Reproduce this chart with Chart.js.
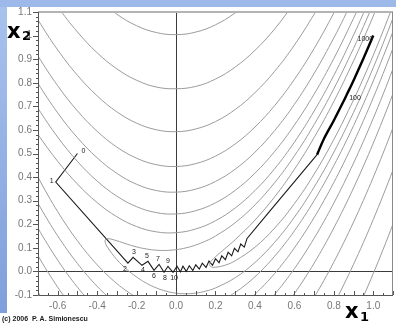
<!DOCTYPE html>
<html>
<head>
<meta charset="utf-8">
<script src="https://cdn.jsdelivr.net/npm/chart.js@4.4.1/dist/chart.umd.min.js"></script>
<style>
  html, body { margin: 0; padding: 0; background: #fff; }
  canvas { display: block; }
</style>
</head>
<body>
<canvas id="contourChart" width="396" height="324"></canvas>
<script>
// axis ticks
const xTicks = [-0.6, -0.4, -0.2, 0.0, 0.2, 0.4, 0.6, 0.8, 1.0];
const xTickLabels = ['-0.6', '-0.4', '-0.2', '0.0', '0.2', '0.4', '0.6', '0.8', '1.0'];
const yTicks = [-0.1, 0.0, 0.1, 0.2, 0.3, 0.4, 0.5, 0.6, 0.7, 0.8, 0.9, 1.0, 1.1];
const yTickLabels = ['-0.1', '0.0', '0.1', '0.2', '0.3', '0.4', '0.5', '0.6', '0.7', '0.8', '0.9', '1', '1.1'];

// contour lines as [x1, x2] points (outer level first)
const contourA_upper = [[-0.4,1.159],[-0.3,1.0905],[-0.2,1.0418],[-0.1,1.0129],[0,1.004],[0.1,1.0149],[0.2,1.0458],[0.3,1.0965],[0.4,1.167]];
const contourA_lower = [[0.9,-0.199],[0.95,-0.106],[1.0,-0.009],[1.05,0.0935],[1.1,0.201],[1.15,0.3135]];

const contourB_upper = [[-0.7,1.251],[-0.6,1.123],[-0.5,1.0152],[-0.4,0.9271],[-0.3,0.8588],[-0.2,0.8105],[-0.1,0.7819],[0,0.7746],[0.1,0.7845],[0.2,0.8156],[0.3,0.8666],[0.4,0.9374],[0.5,1.0281],[0.6,1.1387]];
const contourB_lower = [[0.75,-0.2172],[0.8,-0.1395],[0.85,-0.057],[0.9,0.0303],[0.95,0.1228],[1.0,0.2203],[1.05,0.3228],[1.1,0.4303],[1.15,0.5428]];

const contourC_upper = [[-0.75,1.1373],[-0.7,1.0663],[-0.6,0.9391],[-0.5,0.8318],[-0.4,0.7443],[-0.3,0.6766],[-0.2,0.6287],[-0.1,0.6007],[0,0.5925],[0.1,0.6041],[0.2,0.6355],[0.3,0.6867],[0.4,0.7578],[0.5,0.8487],[0.6,0.9595],[0.7,1.0901],[0.75,1.1628]];
const contourC_left = [[-0.75,-0.0123],[-0.7,-0.0863],[-0.65,-0.1552]];
const contourC_lower = [[0.65,-0.1773],[0.7,-0.1101],[0.75,-0.0378],[0.8,0.0395],[0.85,0.1219],[0.9,0.2093],[0.95,0.3017],[1.0,0.3992],[1.05,0.5017],[1.1,0.6092],[1.15,0.7217]];

const contourD_upper = [[-0.75,0.9837],[-0.7,0.9132],[-0.6,0.7871],[-0.5,0.6807],[-0.4,0.5941],[-0.3,0.5271],[-0.2,0.48],[-0.1,0.4526],[0,0.445],[0.1,0.4571],[0.2,0.489],[0.3,0.5407],[0.4,0.6121],[0.5,0.7033],[0.6,0.8143],[0.7,0.9451],[0.8,1.0956],[0.85,1.1783]];
const contourD_left = [[-0.75,0.1413],[-0.7,0.0668],[-0.65,-0.0027],[-0.6,-0.0671],[-0.55,-0.1264]];
const contourD_lower = [[0.55,-0.1514],[0.6,-0.0943],[0.65,-0.0322],[0.7,0.0349],[0.75,0.1071],[0.8,0.1844],[0.85,0.2667],[0.9,0.354],[0.95,0.4465],[1.0,0.5439],[1.05,0.6465],[1.1,0.754],[1.15,0.8665]];

const contourE_upper = [[-0.75,0.8664],[-0.7,0.7968],[-0.6,0.6721],[-0.5,0.567],[-0.4,0.4816],[-0.3,0.4157],[-0.2,0.3695],[-0.1,0.343],[0,0.3362],[0.1,0.349],[0.2,0.3815],[0.3,0.4337],[0.4,0.5055],[0.5,0.5971],[0.6,0.7084],[0.7,0.8394],[0.8,0.9901],[0.85,1.0728],[0.9,1.1605]];
const contourE_left = [[-0.75,0.2586],[-0.7,0.1832],[-0.65,0.113],[-0.6,0.0479],[-0.55,-0.0121],[-0.5,-0.067],[-0.45,-0.1168]];
const contourE_lower = [[0.45,-0.1439],[0.5,-0.0971],[0.55,-0.0453],[0.6,0.0116],[0.65,0.0735],[0.7,0.1406],[0.75,0.2127],[0.8,0.2899],[0.85,0.3722],[0.9,0.4595],[0.95,0.5518],[1.0,0.6493],[1.05,0.7518],[1.1,0.8594],[1.15,0.9718]];

const contourF_upper = [[-0.75,0.7594],[-0.7,0.6912],[-0.6,0.5693],[-0.5,0.4666],[-0.4,0.3832],[-0.3,0.3191],[-0.2,0.2745],[-0.1,0.2494],[0,0.2437],[0.1,0.2576],[0.2,0.291],[0.3,0.344],[0.4,0.4165],[0.5,0.5087],[0.6,0.6204],[0.7,0.7517],[0.8,0.9027],[0.9,1.0732],[0.95,1.1659]];
const contourF_left = [[-0.75,0.3656],[-0.7,0.2888],[-0.65,0.2171],[-0.6,0.1507],[-0.55,0.0895],[-0.5,0.0334],[-0.45,-0.0174],[-0.4,-0.0632],[-0.35,-0.1037],[-0.3,-0.1391]];
const contourF_lower = [[0.3,-0.164],[0.35,-0.1328],[0.4,-0.0965],[0.45,-0.0551],[0.5,-0.0087],[0.55,0.0429],[0.6,0.0996],[0.65,0.1614],[0.7,0.2283],[0.75,0.3002],[0.8,0.3773],[0.85,0.4595],[0.9,0.5468],[0.95,0.6391],[1.0,0.7366],[1.05,0.8391],[1.1,0.9467],[1.15,1.0592],[1.2,1.1773]];

const contourG_upper = [[-0.75,0.6423],[-0.7,0.58],[-0.6,0.4668],[-0.5,0.3704],[-0.4,0.2919],[-0.3,0.2318],[-0.2,0.1903],[-0.1,0.1678],[0,0.1643],[0.1,0.18],[0.2,0.2149],[0.3,0.2692],[0.4,0.3428],[0.5,0.4357],[0.6,0.5481],[0.7,0.68],[0.8,0.8313],[0.9,1.0021],[0.95,1.0948],[1.0,1.1924]];
const contourG_left = [[-0.75,0.4827],[-0.7,0.4],[-0.65,0.3236],[-0.6,0.2532],[-0.55,0.1886],[-0.5,0.1296],[-0.45,0.0761],[-0.4,0.0281],[-0.35,-0.0145],[-0.3,-0.0518],[-0.25,-0.0837],[-0.2,-0.1103],[-0.15,-0.1317]];
const contourG_lower = [[0.15,-0.1501],[0.2,-0.1349],[0.25,-0.1146],[0.3,-0.0892],[0.35,-0.0586],[0.4,-0.0228],[0.45,0.0182],[0.5,0.0643],[0.55,0.1155],[0.6,0.1719],[0.65,0.2333],[0.7,0.3],[0.75,0.3717],[0.8,0.4487],[0.85,0.5307],[0.9,0.6179],[0.95,0.7102],[1.0,0.8076],[1.05,0.9102],[1.1,1.0176],[1.15,1.1302]];

const contourH = [[1.05,1.2384],[1.0,1.136],[0.95,1.0384],[0.9,0.9456],[0.8,0.7745],[0.7,0.6227],[0.6,0.49],[0.5,0.3765],[0.4,0.2821],[0.3,0.2066],[0.2,0.15],[0.15,0.1287],[0.1,0.112],[0.05,0.0998],[0,0.0922],[-0.05,0.089],[-0.1,0.09],[-0.15,0.0951],[-0.2,0.104],[-0.25,0.1161],[-0.3,0.13],[-0.35,0.1391],[-0.36,0.1297],[-0.35,0.1059],[-0.3,0.05],[-0.25,0.0089],[-0.2,-0.024],[-0.15,-0.0501],[-0.1,-0.07],[-0.05,-0.084],[0,-0.0922],[0.05,-0.0948],[0.1,-0.092],[0.15,-0.0837],[0.2,-0.07],[0.3,-0.0266],[0.4,0.0379],[0.5,0.1235],[0.6,0.23],[0.7,0.3573],[0.8,0.5055],[0.9,0.6744],[0.95,0.7666],[1.0,0.864],[1.05,0.9666],[1.1,1.0744],[1.15,1.1873]];

const contourI = [[1.05,1.1854],[1.0,1.0831],[0.95,0.9854],[0.9,0.8925],[0.8,0.7206],[0.7,0.5675],[0.6,0.4328],[0.5,0.3163],[0.4,0.2174],[0.3,0.1347],[0.25,0.0982],[0.2,0.0624],[0.18,0.0457],[0.1693,0.0287],[0.18,0.0191],[0.2,0.0176],[0.25,0.0268],[0.3,0.0453],[0.4,0.1026],[0.5,0.1837],[0.6,0.2872],[0.7,0.4125],[0.8,0.5594],[0.9,0.7275],[0.95,0.8196],[1.0,0.9169],[1.05,1.0196],[1.1,1.1275]];

// descent path: start, numbered steps, then small zigzags along the valley
const pathX = [-0.5, -0.61, -0.244, -0.218, -0.1726, -0.1422, -0.1118, -0.0864, -0.061, -0.0408, -0.0154,
  0.005, 0.022, 0.035, 0.052, 0.067, 0.085, 0.100, 0.118, 0.133, 0.152, 0.167, 0.185, 0.200, 0.218,
  0.232, 0.250, 0.264, 0.282, 0.296, 0.314, 0.328, 0.346, 0.36, 0.47, 0.59, 0.715];
const pathY = [0.5, 0.379, 0.035, 0.0595, 0.0259, 0.0427, 0.0049, 0.0301, -0.0035, 0.0217, -0.0035,
  0.022, -0.002, 0.022, 0.000, 0.024, 0.004, 0.028, 0.010, 0.035, 0.017, 0.044, 0.026, 0.054, 0.037,
  0.066, 0.050, 0.081, 0.066, 0.098, 0.083, 0.116, 0.103, 0.14, 0.25, 0.37, 0.495];
const pathLabels = ['0', '1', '2', '3', '4', '5', '6', '7', '8', '9', '10'];

// last part of the path, dense iterations close to the valley floor
const tailX = [0.715, 0.75, 0.8, 0.85, 0.867, 0.9, 0.95, 1.0];
const tailY = [0.495, 0.5625, 0.64, 0.7225, 0.752, 0.81, 0.9025, 1.0];
const tailLabels = ['', '', '', '', '100', '', '', '1000'];

// label placement (pixels from the point)
const pathLabelShift = [[6, -2], [-4, -1], [-3, 6], [1, -5], [1, 5], [-1, -5], [0, 6], [-1, -5], [1, 6], [0, -5], [1, 6]];
const tailLabelShift = {4: [8, 4], 7: [-8, 3]};

const toPoints = (xs, ys) => xs.map((x, i) => ({x: x, y: ys[i]}));
const pairPoints = pts => pts.map(p => ({x: p[0], y: p[1]}));

const contours = [
  contourA_upper, contourA_lower,
  contourB_upper, contourB_lower,
  contourC_upper, contourC_left, contourC_lower,
  contourD_upper, contourD_left, contourD_lower,
  contourE_upper, contourE_left, contourE_lower,
  contourF_upper, contourF_left, contourF_lower,
  contourG_upper, contourG_left, contourG_lower,
  contourH, contourI
];

const datasets = contours.map(c => ({
  data: pairPoints(c),
  showLine: true,
  borderColor: '#9c9c9c',
  borderWidth: 1,
  tension: 0.4,
  pointRadius: 0
}));

datasets.push({
  data: toPoints(pathX, pathY),
  showLine: true,
  borderColor: '#1a1a1a',
  borderWidth: 1.1,
  tension: 0,
  pointRadius: 0
});
datasets.push({
  data: toPoints(tailX, tailY),
  showLine: true,
  borderColor: '#000',
  borderWidth: 2.4,
  tension: 0.3,
  pointRadius: 0
});

const framePlugin = {
  id: 'frame',
  beforeDraw(chart) {
    const ctx = chart.ctx;
    ctx.save();
    ctx.fillStyle = '#fff';
    ctx.fillRect(0, 0, chart.width, chart.height);
    let g = ctx.createLinearGradient(0, 0, 0, 313);
    g.addColorStop(0, '#a9c3ee');
    g.addColorStop(1, '#7f9fdc');
    ctx.fillStyle = g;
    ctx.fillRect(0, 0, 7, 313);
    ctx.fillStyle = '#9db9ea';
    ctx.fillRect(0, 0, chart.width, 7);
    ctx.restore();
  },
  beforeDatasetsDraw(chart) {
    const ctx = chart.ctx;
    const a = chart.chartArea;
    const xs = chart.scales.x, ys = chart.scales.y;
    ctx.save();
    ctx.strokeStyle = '#3a3a3a';
    ctx.lineWidth = 1;
    const x0 = Math.round(xs.getPixelForValue(0)) + 0.5;
    const y0 = Math.round(ys.getPixelForValue(0)) + 0.5;
    ctx.beginPath();
    ctx.moveTo(x0, a.top); ctx.lineTo(x0, a.bottom);
    ctx.moveTo(a.left, y0); ctx.lineTo(a.right, y0);
    ctx.stroke();
    ctx.restore();
  },
  afterDatasetsDraw(chart) {
    const ctx = chart.ctx;
    const a = chart.chartArea;
    const xs = chart.scales.x, ys = chart.scales.y;
    ctx.save();
    // frame
    ctx.strokeStyle = '#b4b4b4';
    ctx.lineWidth = 2;
    ctx.beginPath();
    ctx.moveTo(a.left, a.top); ctx.lineTo(a.right, a.top);
    ctx.stroke();
    ctx.lineWidth = 1;
    ctx.strokeStyle = '#8a8a8a';
    ctx.beginPath();
    ctx.moveTo(a.right - 0.5, a.top); ctx.lineTo(a.right - 0.5, a.bottom);
    ctx.stroke();
    ctx.strokeStyle = '#555';
    ctx.beginPath();
    ctx.moveTo(a.left + 0.5, a.top); ctx.lineTo(a.left + 0.5, a.bottom + 0.5);
    ctx.lineTo(a.right, a.bottom + 0.5);
    ctx.stroke();
    // tick marks
    ctx.beginPath();
    for (let k = -5; k <= 55; k++) {
      const py = Math.round(ys.getPixelForValue(k / 50)) + 0.5;
      const len = k % 5 === 0 ? 5 : 2;
      ctx.moveTo(a.left - len, py); ctx.lineTo(a.left, py);
    }
    for (let k = -14; k <= 22; k++) {
      const px = Math.round(xs.getPixelForValue(k / 20)) + 0.5;
      const len = k % 2 === 0 ? 4 : 2;
      ctx.moveTo(px, a.bottom); ctx.lineTo(px, a.bottom - len);
    }
    ctx.stroke();

    // iteration labels
    ctx.fillStyle = '#222';
    ctx.font = '7px "Liberation Sans", Arial, sans-serif';
    ctx.textAlign = 'center';
    ctx.textBaseline = 'middle';
    pathLabels.forEach((t, i) => {
      const px = xs.getPixelForValue(pathX[i]) + pathLabelShift[i][0];
      const py = ys.getPixelForValue(pathY[i]) + pathLabelShift[i][1];
      ctx.fillText(t, px, py);
    });
    tailLabels.forEach((t, i) => {
      if (!t) return;
      const s = tailLabelShift[i];
      ctx.fillText(t, xs.getPixelForValue(tailX[i]) + s[0], ys.getPixelForValue(tailY[i]) + s[1]);
    });

    // axis titles
    ctx.fillStyle = '#000';
    ctx.textAlign = 'left';
    ctx.textBaseline = 'alphabetic';
    ctx.font = 'bold 21px "DejaVu Sans", sans-serif';
    ctx.fillText('x', 7, 38);
    ctx.fillText('x', 345, 318);
    ctx.font = 'bold 13px "DejaVu Sans", sans-serif';
    ctx.fillText('2', 22, 40);
    ctx.fillText('1', 360, 321);

    ctx.font = 'bold 7px "Liberation Sans", Arial, sans-serif';
    ctx.fillStyle = '#1a1a1a';
    ctx.fillText('(c) 2006  P. A. Simionescu', 2, 321);
    ctx.restore();
  }
};

new Chart(document.getElementById('contourChart'), {
  type: 'scatter',
  data: { datasets: datasets },
  options: {
    responsive: false,
    animation: false,
    events: [],
    layout: { padding: { top: 9, right: 3, left: 0, bottom: 0 } },
    plugins: { legend: { display: false }, tooltip: { enabled: false } },
    elements: { line: { capBezierPoints: false } },
    scales: {
      x: {
        type: 'linear',
        min: -0.7,
        max: 1.1,
        grid: { display: false, drawTicks: false },
        border: { display: false },
        afterBuildTicks: s => { s.ticks = xTicks.map(v => ({value: v})); },
        afterFit: s => { s.height = 29; },
        ticks: {
          autoSkip: false,
          maxRotation: 0,
          padding: 5,
          color: '#777',
          font: { family: '"Liberation Sans", Arial, sans-serif', size: 10 },
          callback: (v, i) => xTickLabels[i]
        }
      },
      y: {
        type: 'linear',
        min: -0.1,
        max: 1.1,
        grid: { display: false, drawTicks: false },
        border: { display: false },
        afterBuildTicks: s => { s.ticks = yTicks.map(v => ({value: v})); },
        afterFit: s => { s.width = 38; },
        ticks: {
          autoSkip: false,
          padding: 6,
          color: '#777',
          font: { family: '"Liberation Sans", Arial, sans-serif', size: 10 },
          callback: (v, i) => yTickLabels[i]
        }
      }
    }
  },
  plugins: [framePlugin]
});
</script>
</body>
</html>
